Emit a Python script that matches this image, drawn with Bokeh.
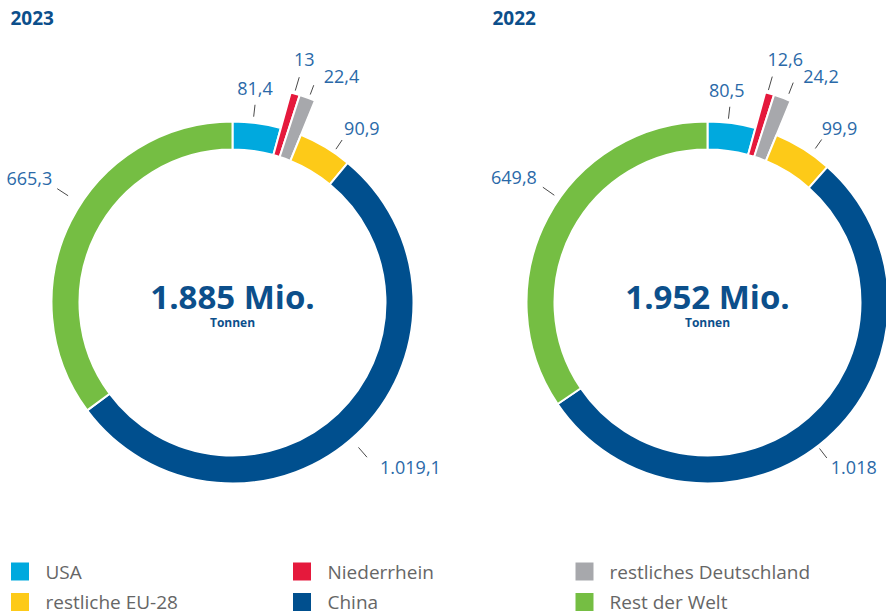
import numpy as np
from bokeh.plotting import figure
from bokeh.models import Range1d
from bokeh.core.properties import value
from bokeh.embed import file_html
from bokeh.resources import INLINE

# ---------------- data ----------------
categories = ["USA", "Niederrhein", "restliches Deutschland",
              "restliche EU-28", "China", "Rest der Welt"]
values_2023 = [81.4, 13.0, 22.4, 90.9, 1019.1, 665.3]
values_2022 = [80.5, 12.6, 24.2, 99.9, 1018.0, 649.8]
labels_2023 = ["81,4", "13", "22,4", "90,9", "1.019,1", "665,3"]
labels_2022 = ["80,5", "12,6", "24,2", "99,9", "1.018", "649,8"]
years = ["2023", "2022"]
totals = ["1.885 Mio.", "1.952 Mio."]
unit = "Tonnen"

# ---------------- style / layout ----------------
colors = ["#00a9de", "#e5193c", "#a7a8ac", "#fdca18", "#004f8e", "#75be43"]
exploded = [False, True, True, False, False, False]
TITLE_COL = "#0c4f8b"
LABEL_COL = "#2a69a8"
LEGEND_COL = "#666666"
LINE_COL = "#4a4a4a"
FONT = "Open Sans"

W, H = 886, 615
R_IN, R_OUT, R_EXP = 153, 181, 218
centers = [(232, 302), (707, 302)]

# per-slice label layout: angle (deg, clockwise from north), leader start/end
# offset beyond the slice outer radius, text offset (dx, dy up), align
label_layout = [
    dict(ang=[6.5, 16.5, 20.5, 34, 139, 303],
         r0=[6, 3, 4, 4, 11, 15], r1=[18, 17, 14, 15, 24, 28],
         dx=[0, 5, 10, 2, 13, -5], dy=[16, 18, 9, 12, -10, 10],
         align=["center", "center", "left", "left", "left", "right"]),
    dict(ang=[6.5, 16, 21.3, 35, 142.5, 305],
         r0=[4, 3, 6, 7, 3, 6], r1=[16, 17, 18, 18, 15, 20],
         dx=[-3, 13, 10, 0, 4, -6], dy=[16, 17, 6.5, 11, -10, 10],
         align=["center", "center", "left", "left", "left", "right"]),
]


def Y(yref):
    return H - yref


p = figure(width=W, height=H, output_backend="svg",
           toolbar_location=None, x_axis_type=None, y_axis_type=None,
           x_range=Range1d(0, W), y_range=Range1d(0, H),
           min_border=0, outline_line_color=None)
p.grid.visible = False
p.background_fill_color = "white"
p.border_fill_color = "white"

for ci, (vals, labs) in enumerate([(values_2023, labels_2023), (values_2022, labels_2022)]):
    cx, cyr = centers[ci]
    cy = Y(cyr)
    v = np.array(vals, dtype=float)
    cum = np.concatenate([[0], np.cumsum(v)]) / v.sum() * 360.0
    start = np.radians(90 - cum[:-1])
    end = np.radians(90 - cum[1:])
    outer = [R_EXP if e else R_OUT for e in exploded]
    p.annular_wedge(x=[cx] * len(v), y=[cy] * len(v), inner_radius=R_IN,
                    outer_radius=outer, start_angle=list(start), end_angle=list(end),
                    direction="clock", fill_color=colors, line_color="white",
                    line_width=2)

    lay = label_layout[ci]
    ang = np.radians(np.array(lay["ang"]))
    ro = np.array(outer, dtype=float)
    r0 = ro + np.array(lay["r0"])
    r1 = ro + np.array(lay["r1"])
    x0 = cx + r0 * np.sin(ang)
    y0 = cy + r0 * np.cos(ang)
    x1 = cx + r1 * np.sin(ang)
    y1 = cy + r1 * np.cos(ang)
    p.segment(x0=list(x0), y0=list(y0), x1=list(x1), y1=list(y1),
              line_color=LINE_COL, line_width=1)
    for i in range(len(v)):
        p.text(x=[x1[i] + lay["dx"][i]], y=[y1[i] + lay["dy"][i]], text=[labs[i]],
               text_font=value(FONT), text_font_size="18px", text_color=LABEL_COL,
               text_align=lay["align"][i], text_baseline="middle")

    # centre text
    p.text(x=[cx], y=[Y(296)], text=[totals[ci]], text_font=value(FONT),
           text_font_size="33px", text_font_style="bold", text_color=TITLE_COL,
           text_align="center", text_baseline="middle")
    p.text(x=[cx], y=[Y(322)], text=[unit], text_font=value(FONT),
           text_font_size="12px", text_font_style="bold", text_color=TITLE_COL,
           text_align="center", text_baseline="middle")
    # year title
    p.text(x=[[10, 492][ci]], y=[Y(17)], text=[years[ci]], text_font=value(FONT),
           text_font_size="19px", text_font_style="bold", text_color=TITLE_COL,
           text_align="left", text_baseline="middle")

# legend
leg_sq_x = [19.5, 301.5, 584]
leg_tx_x = [45, 327, 609]
leg_row_y = [571, 601.5]
for k, cat in enumerate(categories):
    row, col = divmod(k, 3)
    p.rect(x=[leg_sq_x[col]], y=[Y(leg_row_y[row])], width=18, height=18,
           fill_color=colors[k], line_color=None)
    p.text(x=[leg_tx_x[col]], y=[Y(leg_row_y[row])], text=[cat], text_font=value(FONT),
           text_font_size="19px", text_color=LEGEND_COL, text_align="left",
           text_baseline="middle")

open("out.html", "w").write(file_html(p, INLINE))
